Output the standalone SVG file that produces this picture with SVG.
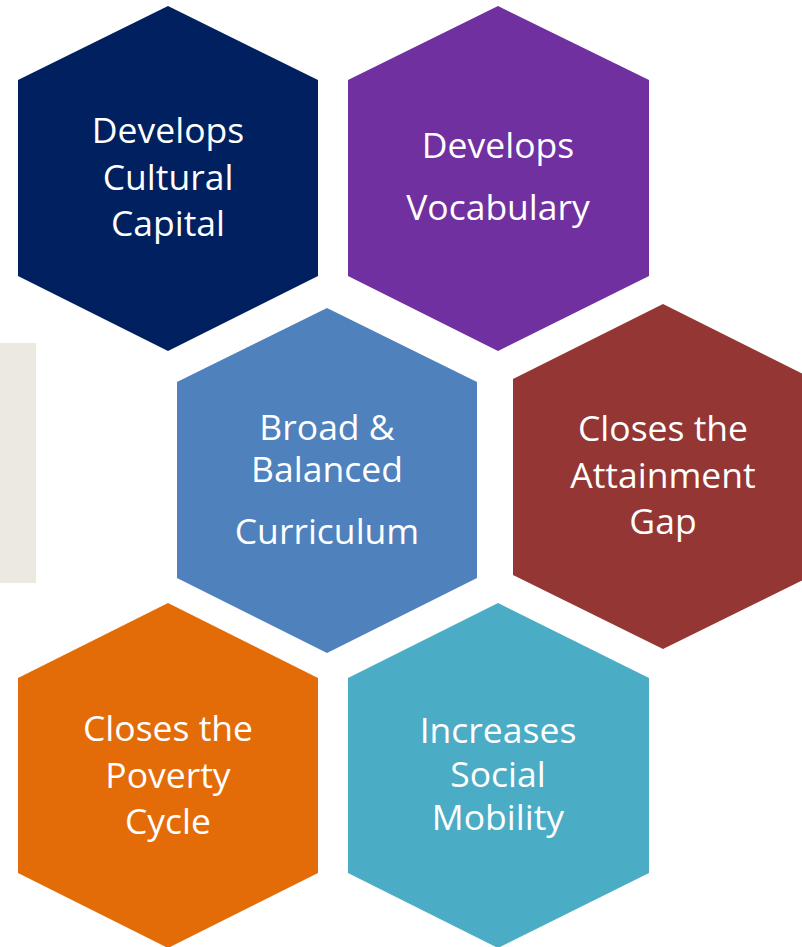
<svg xmlns="http://www.w3.org/2000/svg" width="802" height="947" viewBox="0 0 802 947">
<style>
.t{font-family:"Open Sans","Liberation Sans",sans-serif;font-size:35.5px;fill:#fff;text-anchor:middle}
</style>
<rect width="802" height="947" fill="#fff"/>
<rect id="sidebar" x="0" y="343" width="36" height="240" fill="#ECEAE0"/>
<g id="connectors"></g>
<g id="hex-cultural">
<polygon points="168,6 318,80 318,276 168,351 18,276 18,80" fill="#00205F"/>
<text class="t" x="168" y="143">Develops</text>
<text class="t" x="168" y="190">Cultural</text>
<text class="t" x="168" y="236">Capital</text>
</g>
<g id="hex-vocabulary">
<polygon points="498,6 649,80 649,276 498,351 348,276 348,80" fill="#7030A0"/>
<text class="t" x="498" y="158">Develops</text>
<text class="t" x="498" y="220">Vocabulary</text>
</g>
<g id="hex-curriculum">
<polygon points="327,308 477,382 477,578 327,653 177,578 177,382" fill="#4F81BD"/>
<text class="t" x="327" y="440">Broad &amp;</text>
<text class="t" x="327" y="482">Balanced</text>
<text class="t" x="327" y="544">Curriculum</text>
</g>
<g id="hex-attainment">
<polygon points="663,304 813,379 813,575 663,649 513,575 513,379" fill="#943634"/>
<text class="t" x="663" y="441">Closes the</text>
<text class="t" x="663" y="488">Attainment</text>
<text class="t" x="663" y="534">Gap</text>
</g>
<g id="hex-poverty">
<polygon points="168,603 318,678 318,873 168,948 18,873 18,678" fill="#E36C09"/>
<text class="t" x="168" y="741">Closes the</text>
<text class="t" x="168" y="788">Poverty</text>
<text class="t" x="168" y="834">Cycle</text>
</g>
<g id="hex-mobility">
<polygon points="498,603 649,678 649,873 498,948 348,873 348,678" fill="#4BACC6"/>
<text class="t" x="498" y="743">Increases</text>
<text class="t" x="498" y="787">Social</text>
<text class="t" x="498" y="830">Mobility</text>
</g>
</svg>
